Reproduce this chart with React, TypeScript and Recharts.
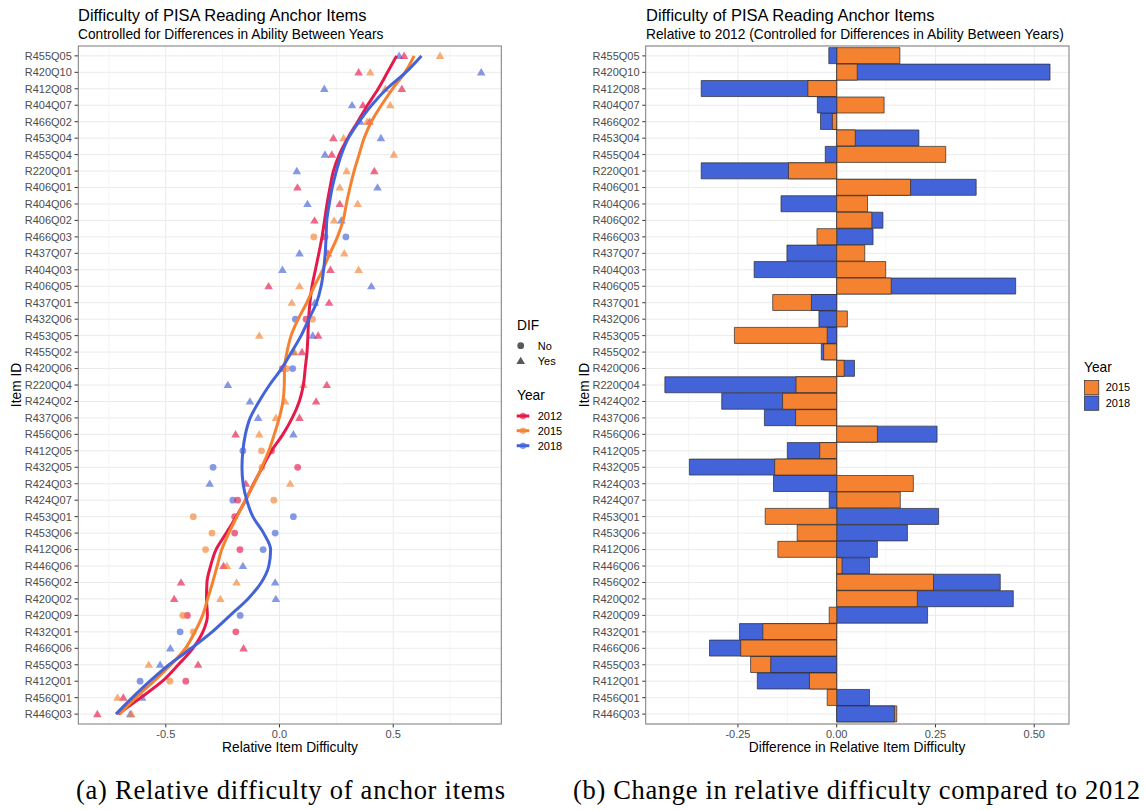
import { Bar, CartesianGrid, Cell, ComposedChart, Scatter, XAxis, YAxis } from "recharts"

// item order, top to bottom
const items = [
  "R455Q05", "R420Q10", "R412Q08", "R404Q07", "R466Q02", "R453Q04", "R455Q04",
  "R220Q01", "R406Q01", "R404Q06", "R406Q02", "R466Q03", "R437Q07", "R404Q03",
  "R406Q05", "R437Q01", "R432Q06", "R453Q05", "R455Q02", "R420Q06", "R220Q04",
  "R424Q02", "R437Q06", "R456Q06", "R412Q05", "R432Q05", "R424Q03", "R424Q07",
  "R453Q01", "R453Q06", "R412Q06", "R446Q06", "R456Q02", "R420Q02", "R420Q09",
  "R432Q01", "R466Q06", "R455Q03", "R412Q01", "R456Q01", "R446Q03",
]

const dif = [
  "Yes", "Yes", "Yes", "Yes", "Yes", "Yes", "Yes", "Yes", "Yes", "Yes", "Yes",
  "No", "Yes", "Yes", "Yes", "Yes", "No", "Yes", "Yes", "No", "Yes", "Yes", "Yes",
  "Yes", "No", "No", "Yes", "No", "No", "No", "No", "Yes", "Yes", "Yes", "No", "No",
  "Yes", "Yes", "No", "Yes", "Yes",
]

// relative item difficulty per year
const rel2012 = [
  0.548, 0.348, 0.538, 0.367, 0.396, 0.237, 0.23, 0.417, 0.079, 0.265, 0.154,
  0.2, 0.213, 0.224, -0.048, 0.218, 0.117, 0.17, 0.099, 0.013, 0.208, 0.161,
  0.088, -0.193, -0.035, 0.08, -0.148, -0.184, -0.197, -0.197, -0.174, -0.246,
  -0.433, -0.463, -0.405, -0.192, -0.158, -0.358, -0.412, -0.687, -0.801,
]
const rel2015 = [
  0.706, 0.399, 0.465, 0.487, 0.385, 0.282, 0.503, 0.295, 0.265, 0.344, 0.24,
  0.151, 0.285, 0.348, 0.088, 0.054, 0.145, -0.089, 0.066, 0.032, 0.105, 0.025,
  -0.016, -0.089, -0.079, -0.077, 0.047, -0.025, -0.379, -0.297, -0.325, -0.231,
  -0.189, -0.26, -0.425, -0.379, -0.404, -0.575, -0.482, -0.712, -0.651,
]
const rel2018 = [
  0.526, 0.887, 0.197, 0.319, 0.355, 0.446, 0.2, 0.076, 0.431, 0.123, 0.272,
  0.292, 0.088, 0.013, 0.404, 0.155, 0.07, 0.146, 0.06, 0.058, -0.227, -0.13,
  -0.094, 0.061, -0.161, -0.292, -0.307, -0.205, 0.061, -0.019, -0.072, -0.161,
  -0.019, -0.016, -0.173, -0.437, -0.48, -0.525, -0.613, -0.604, -0.656,
]

const smooth2012 = [
  0.515, 0.475, 0.434, 0.387, 0.344, 0.3, 0.263, 0.237, 0.222, 0.209, 0.198,
  0.187, 0.173, 0.158, 0.143, 0.134, 0.128, 0.125, 0.121, 0.113, 0.105, 0.087,
  0.056, 0.015, -0.035, -0.075, -0.114, -0.149, -0.19, -0.234, -0.279, -0.303,
  -0.319, -0.321, -0.317, -0.337, -0.381, -0.445, -0.515, -0.61, -0.709,
]
const smooth2015 = [
  0.592, 0.552, 0.497, 0.448, 0.404, 0.372, 0.35, 0.328, 0.31, 0.294, 0.28,
  0.255, 0.222, 0.19, 0.153, 0.12, 0.082, 0.051, 0.033, 0.022, 0.021, 0.015,
  -0.001, -0.023, -0.047, -0.078, -0.112, -0.15, -0.187, -0.223, -0.254, -0.274,
  -0.294, -0.316, -0.338, -0.372, -0.414, -0.478, -0.552, -0.632, -0.703,
]
const smooth2018 = [
  0.624, 0.555, 0.472, 0.405, 0.35, 0.303, 0.272, 0.25, 0.232, 0.219, 0.208,
  0.205, 0.201, 0.194, 0.183, 0.163, 0.129, 0.095, 0.053, 0.009, -0.044, -0.09,
  -0.129, -0.15, -0.161, -0.165, -0.16, -0.144, -0.117, -0.07, -0.039, -0.047,
  -0.08, -0.139, -0.217, -0.296, -0.388, -0.486, -0.57, -0.647, -0.719,
]

// change relative to 2012
const change2015 = [
  0.16, 0.052, -0.073, 0.12, -0.011, 0.047, 0.276, -0.122, 0.187, 0.078, 0.089,
  -0.05, 0.071, 0.124, 0.138, -0.162, 0.027, -0.259, -0.033, 0.019, -0.103,
  -0.137, -0.104, 0.103, -0.043, -0.157, 0.194, 0.161, -0.181, -0.1, -0.149,
  0.0135, 0.245, 0.204, -0.019, -0.187, -0.243, -0.218, -0.069, -0.024, 0.152,
]
const change2018 = [
  -0.02, 0.54, -0.343, -0.049, -0.041, 0.208, -0.029, -0.343, 0.353, -0.141,
  0.117, 0.092, -0.126, -0.209, 0.453, -0.064, -0.045, -0.024, -0.039, 0.045,
  -0.435, -0.291, -0.183, 0.254, -0.125, -0.373, -0.16, -0.019, 0.258, 0.179,
  0.103, 0.083, 0.414, 0.447, 0.23, -0.246, -0.322, -0.167, -0.201, 0.083, 0.146,
]

const leftTicks = [-0.5, 0, 0.5]
const leftMinor = [-0.75, -0.25, 0.25, 0.75]
const rightTicks = [-0.25, 0, 0.25, 0.5]
const rightMinor = [-0.375, -0.125, 0.125, 0.375]

const RED = "#e6194b"
const ORANGE = "#f58231"
const BLUE = "#4363d8"
const FONT = "'Liberation Sans', Arial, sans-serif"
const GRID = "#ebebeb"

const idx = items.map((_, i) => i)

const points = (vals: number[]) => vals.map((x, i) => ({ x, y: i, dif: dif[i] }))
const curve = (vals: number[]) => vals.map((x, i) => ({ x, y: i }))

// the shorter bar of each item is drawn over the longer one
const barRows = items.map((item, i) => {
  const a = change2015[i]
  const b = change2018[i]
  const aBack = Math.abs(a) >= Math.abs(b)
  return {
    item,
    back: aBack ? a : b,
    front: aBack ? b : a,
    backFill: aBack ? ORANGE : BLUE,
    frontFill: aBack ? BLUE : ORANGE,
  }
})

const Mark = (props: any) => {
  const { cx, cy, fill } = props
  const d = props.payload?.dif ?? props.dif
  if (d === "Yes") {
    return (
      <polygon
        points={`${cx},${cy - 4.3} ${cx - 4.3},${cy + 3.1} ${cx + 4.3},${cy + 3.1}`}
        fill={fill}
        fillOpacity={0.65}
      />
    )
  }
  return <circle cx={cx} cy={cy} r={3.4} fill={fill} fillOpacity={0.65} />
}

const NoShape = () => <g />

const tickStyle = { fontSize: 11, fill: "#4d4d4d", fontFamily: FONT }

function LeftChart() {
  return (
    <ComposedChart
      width={520}
      height={760}
      margin={{ top: 46, right: 19, bottom: 6, left: 8 }}
    >
      <CartesianGrid
        stroke={GRID}
        strokeWidth={0.55}
        horizontal={false}
        verticalValues={leftMinor}
      />
      <CartesianGrid
        stroke={GRID}
        strokeWidth={1}
        horizontalValues={idx}
        verticalValues={leftTicks}
      />
      <XAxis
        type="number"
        dataKey="x"
        domain={[-0.886, 0.974]}
        allowDataOverflow
        ticks={leftTicks}
        tickFormatter={(v) => v.toFixed(1)}
        height={30}
        axisLine={false}
        tickSize={3.4}
        tickMargin={2.5}
        tickLine={{ stroke: "#333333" }}
        tick={tickStyle}
      />
      <YAxis
        type="number"
        dataKey="y"
        domain={[-0.6, 40.6]}
        reversed
        allowDataOverflow
        ticks={idx}
        interval={0}
        tickFormatter={(v) => items[v]}
        width={70}
        axisLine={false}
        tickSize={3.4}
        tickMargin={2.75}
        tickLine={{ stroke: "#333333" }}
        tick={tickStyle}
      />
      <Scatter data={points(rel2018)} fill={BLUE} shape={Mark} isAnimationActive={false} />
      <Scatter data={points(rel2012)} fill={RED} shape={Mark} isAnimationActive={false} />
      <Scatter data={points(rel2015)} fill={ORANGE} shape={Mark} isAnimationActive={false} />
      <Scatter
        data={curve(smooth2012)}
        fill={RED}
        shape={NoShape}
        line={{ stroke: RED, strokeWidth: 3 }}
        lineJointType="monotoneY"
        isAnimationActive={false}
      />
      <Scatter
        data={curve(smooth2015)}
        fill={ORANGE}
        shape={NoShape}
        line={{ stroke: ORANGE, strokeWidth: 3 }}
        lineJointType="monotoneY"
        isAnimationActive={false}
      />
      <Scatter
        data={curve(smooth2018)}
        fill={BLUE}
        shape={NoShape}
        line={{ stroke: BLUE, strokeWidth: 3 }}
        lineJointType="monotoneY"
        isAnimationActive={false}
      />
    </ComposedChart>
  )
}

function RightChart() {
  return (
    <ComposedChart
      width={500}
      height={760}
      layout="vertical"
      data={barRows}
      barGap={-16}
      barCategoryGap={0}
      margin={{ top: 46, right: 11, bottom: 6, left: 5.7 }}
    >
      <CartesianGrid
        stroke={GRID}
        strokeWidth={0.55}
        horizontal={false}
        verticalValues={rightMinor}
      />
      <CartesianGrid stroke={GRID} strokeWidth={1} verticalValues={rightTicks} />
      <XAxis
        type="number"
        domain={[-0.4835, 0.588]}
        allowDataOverflow
        ticks={rightTicks}
        tickFormatter={(v) => v.toFixed(2)}
        height={30}
        axisLine={false}
        tickSize={3.4}
        tickMargin={2.5}
        tickLine={{ stroke: "#333333" }}
        tick={tickStyle}
      />
      <YAxis
        type="category"
        dataKey="item"
        interval={0}
        width={60}
        padding={{ top: 1.65, bottom: 1.65 }}
        axisLine={false}
        tickSize={3.4}
        tickMargin={2.75}
        tickLine={{ stroke: "#333333" }}
        tick={tickStyle}
      />
      <Bar dataKey="back" barSize={16} stroke="#2b2b2b" strokeWidth={0.7} isAnimationActive={false}>
        {barRows.map((r, i) => (
          <Cell key={i} fill={r.backFill} />
        ))}
      </Bar>
      <Bar dataKey="front" barSize={16} stroke="#2b2b2b" strokeWidth={0.7} isAnimationActive={false}>
        {barRows.map((r, i) => (
          <Cell key={i} fill={r.frontFill} />
        ))}
      </Bar>
    </ComposedChart>
  )
}

export default function App() {
  return (
    <div
      style={{
        position: "absolute",
        left: 0,
        top: 0,
        width: 1145,
        height: 810,
        background: "#fff",
        fontFamily: FONT,
      }}
    >
      <div style={{ position: "absolute", left: 0, top: 0 }}>
        <LeftChart />
      </div>
      <div style={{ position: "absolute", left: 580, top: 0 }}>
        <RightChart />
      </div>
      <svg
        width={1145}
        height={810}
        style={{ position: "absolute", left: 0, top: 0, pointerEvents: "none" }}
        fontFamily={FONT}
      >
        {/* panel borders */}
        <rect x={78.3} y={46} width={423} height={678} fill="none" stroke="#7a7a7a" strokeWidth={1} />
        <rect x={645.7} y={46} width={423.3} height={678} fill="none" stroke="#7a7a7a" strokeWidth={1} />

        {/* left titles */}
        <text x={78} y={21} fontSize={16.5} fill="#000">Difficulty of PISA Reading Anchor Items</text>
        <text x={78} y={38.5} fontSize={13.75} fill="#000">Controlled for Differences in Ability Between Years</text>
        <text x={290} y={752} fontSize={13.75} textAnchor="middle" fill="#000">Relative Item Difficulty</text>
        <text transform="translate(21,385) rotate(-90)" fontSize={13.75} textAnchor="middle" fill="#000">Item ID</text>

        {/* right titles */}
        <text x={646} y={21} fontSize={16.5} fill="#000">Difficulty of PISA Reading Anchor Items</text>
        <text x={646} y={38.5} fontSize={13.75} fill="#000">Relative to 2012 (Controlled for Differences in Ability Between Years)</text>
        <text x={857} y={752} fontSize={13.75} textAnchor="middle" fill="#000">Difference in Relative Item Difficulty</text>
        <text transform="translate(589,385) rotate(-90)" fontSize={13.75} textAnchor="middle" fill="#000">Item ID</text>

        {/* left legend */}
        <text x={517} y={330} fontSize={13.75} fill="#000">DIF</text>
        <circle cx={520.7} cy={345.7} r={3.4} fill="#000" fillOpacity={0.65} />
        <text x={537.7} y={349.6} fontSize={11} fill="#000">No</text>
        <polygon points="520.7,356.7 516.4,364.1 525,364.1" fill="#000" fillOpacity={0.65} />
        <text x={537.7} y={364.9} fontSize={11} fill="#000">Yes</text>
        <text x={517} y={400} fontSize={13.75} fill="#000">Year</text>
        {[
          { label: "2012", c: RED, y: 416 },
          { label: "2015", c: ORANGE, y: 430.7 },
          { label: "2018", c: BLUE, y: 445.7 },
        ].map((k) => (
          <g key={k.label}>
            <line x1={516.7} x2={529.3} y1={k.y} y2={k.y} stroke={k.c} strokeWidth={3} />
            <circle cx={523} cy={k.y} r={3.2} fill={k.c} fillOpacity={0.65} />
            <text x={537.7} y={k.y + 3.9} fontSize={11} fill="#000">{k.label}</text>
          </g>
        ))}

        {/* right legend */}
        <text x={1084} y={371.6} fontSize={13.75} fill="#000">Year</text>
        <rect x={1084.5} y={380.5} width={14.3} height={14.3} fill={ORANGE} stroke="#2b2b2b" strokeWidth={0.7} />
        <text x={1105.7} y={391.2} fontSize={11} fill="#000">2015</text>
        <rect x={1084.5} y={396} width={14.3} height={14.3} fill={BLUE} stroke="#2b2b2b" strokeWidth={0.7} />
        <text x={1105.7} y={406.8} fontSize={11} fill="#000">2018</text>

        {/* captions */}
        <text
          x={76}
          y={799}
          fontSize={26.5}
          fontFamily="'Liberation Serif', 'Times New Roman', serif"
          textLength={429}
          lengthAdjust="spacing"
          fill="#000"
        >
          (a) Relative difficulty of anchor items
        </text>
        <text
          x={573}
          y={799}
          fontSize={26.5}
          fontFamily="'Liberation Serif', 'Times New Roman', serif"
          textLength={567}
          lengthAdjust="spacing"
          fill="#000"
        >
          (b) Change in relative difficulty compared to 2012
        </text>
      </svg>
    </div>
  )
}
